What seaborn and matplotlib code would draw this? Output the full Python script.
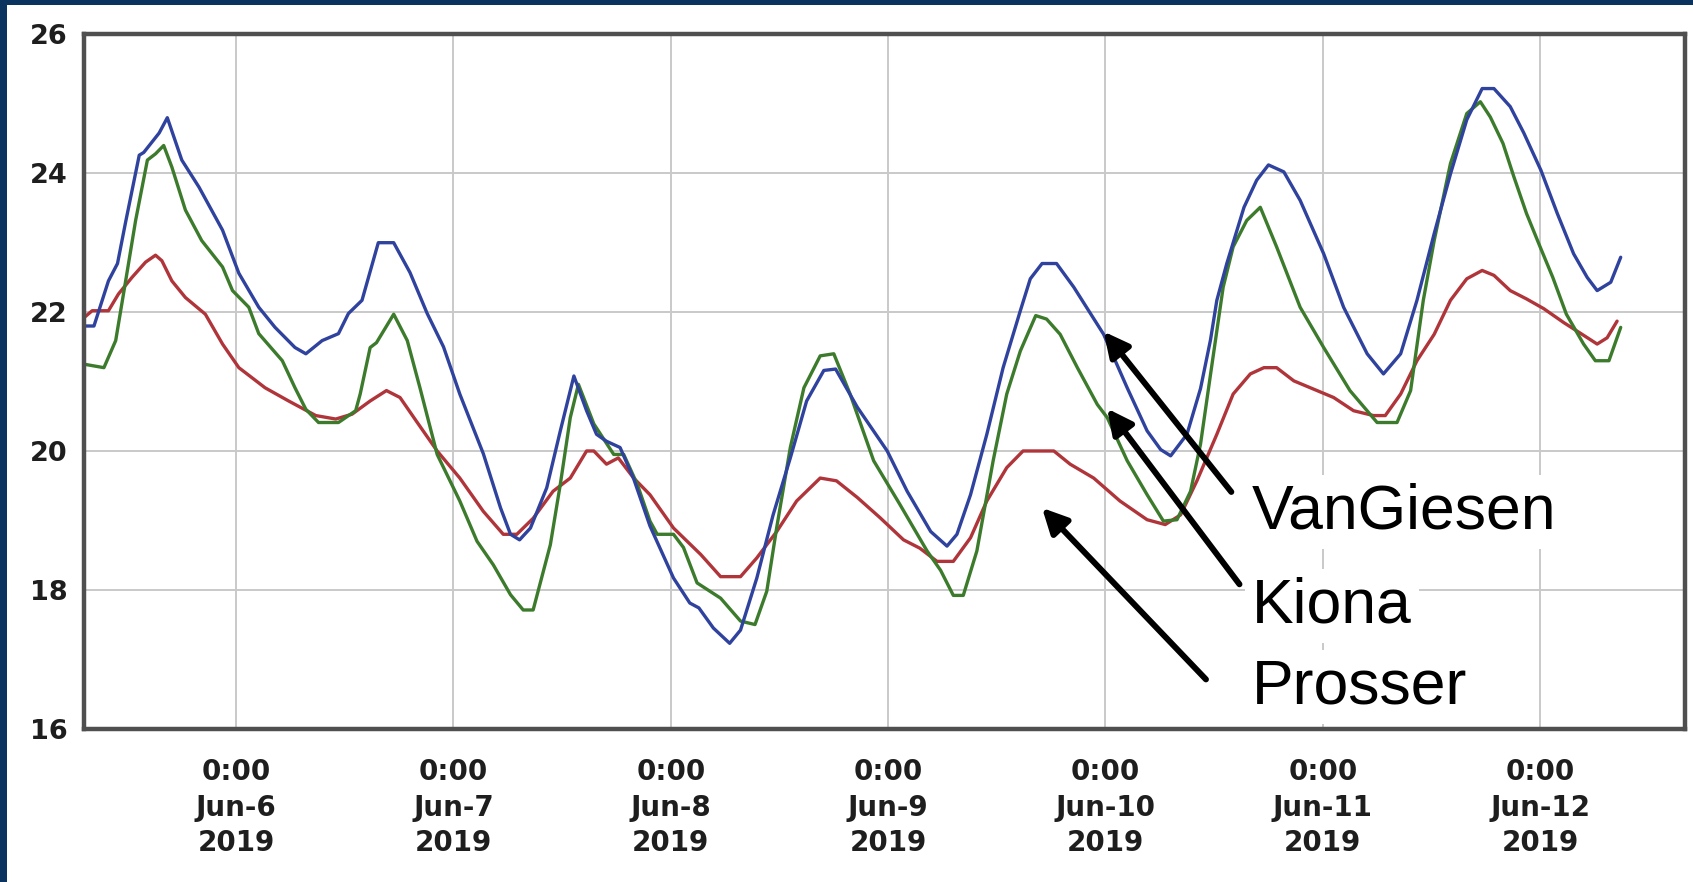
import numpy as np
import pandas as pd
import matplotlib
matplotlib.use("Agg")
import matplotlib.pyplot as plt
import matplotlib.dates as mdates
from matplotlib.patches import Rectangle
import seaborn as sns

# Hourly water temperature (deg C); times are hours relative to 2019-06-06 00:00
vangiesen_hours = [-16.8, -15.7, -14.1, -13.1, -12.2, -10.7, -10.2, -8.5, -7.6, -6.0, -4.1, -1.5,
                   0.3, 2.5, 4.3, 6.5, 7.7, 9.5, 11.3, 12.4, 13.9, 15.7, 17.4, 19.2, 21.1, 22.9,
                   24.7, 27.3, 29.2, 30.3, 31.3, 32.5, 34.3, 35.8, 37.3, 38.7, 39.8, 40.9, 42.4,
                   43.9, 45.7, 48.3, 50.1, 51.1, 52.7, 54.5, 55.7, 57.5, 59.3, 61.2, 63.0, 64.9,
                   66.2, 68.6, 71.9, 74.1, 76.7, 78.5, 79.6, 81.1, 82.9, 84.7, 86.6, 87.7, 89.0,
                   90.6, 92.5, 95.8, 98.4, 100.6, 102.1, 103.2, 105.0, 106.5, 107.6, 108.3, 109.4,
                   111.3, 112.7, 114.0, 115.7, 117.5, 120.1, 122.3, 124.9, 126.7, 128.6, 130.4,
                   132.3, 134.1, 135.9, 137.6, 138.9, 140.7, 142.2, 144.1, 145.9, 147.7, 149.2,
                   150.3, 151.8, 152.9]
vangiesen_temp = [21.8, 21.8, 22.45, 22.7, 23.3, 24.26, 24.3, 24.58, 24.8, 24.19, 23.8, 23.18,
                  22.56, 22.07, 21.78, 21.49, 21.4, 21.59, 21.69, 21.98, 22.17, 23.0, 23.0, 22.57,
                  21.98, 21.5, 20.82, 19.96, 19.18, 18.8, 18.72, 18.89, 19.47, 20.29, 21.08, 20.58,
                  20.24, 20.14, 20.05, 19.6, 18.92, 18.17, 17.81, 17.74, 17.45, 17.23, 17.42, 18.17,
                  19.08, 19.9, 20.72, 21.16, 21.18, 20.63, 20.0, 19.42, 18.84, 18.63, 18.8, 19.37,
                  20.24, 21.2, 22.02, 22.48, 22.7, 22.7, 22.36, 21.68, 20.91, 20.29, 20.02, 19.93,
                  20.24, 20.9, 21.6, 22.17, 22.7, 23.51, 23.9, 24.12, 24.02, 23.61, 22.84, 22.07,
                  21.4, 21.11, 21.4, 22.17, 23.13, 23.99, 24.77, 25.22, 25.22, 24.96, 24.58, 24.04,
                  23.42, 22.84, 22.5, 22.31, 22.43, 22.79]

kiona_hours = [-16.8, -14.6, -13.3, -12.2, -11.1, -9.8, -8.9, -8.0, -7.1, -5.6, -3.8, -1.5, -0.4,
               1.4, 2.5, 5.1, 6.5, 7.7, 9.1, 11.3, 13.2, 13.7, 14.8, 15.5, 17.4, 18.9, 20.3, 22.2,
               24.7, 26.6, 28.4, 30.3, 31.7, 32.8, 34.7, 35.8, 36.9, 37.8, 39.5, 41.7, 42.8, 44.3,
               45.7, 46.5, 48.3, 49.4, 50.9, 53.5, 55.7, 57.3, 58.6, 59.7, 61.2, 62.7, 64.5, 66.0,
               67.8, 70.4, 73.3, 76.3, 77.8, 79.2, 80.3, 81.8, 83.6, 85.1, 86.6, 88.3, 89.5, 91.0,
               92.9, 95.1, 96.2, 98.4, 100.6, 102.4, 103.9, 105.4, 106.5, 107.6, 109.0, 110.1,
               111.6, 113.1, 114.9, 117.5, 120.1, 123.0, 126.0, 128.2, 129.7, 131.1, 132.3, 134.1,
               135.9, 137.4, 138.5, 139.9, 141.1, 142.5, 144.0, 145.4, 146.9, 148.8, 150.1, 151.6,
               152.9]
kiona_temp = [21.25, 21.2, 21.59, 22.45, 23.32, 24.19, 24.28, 24.4, 24.09, 23.47, 23.03, 22.65,
              22.31, 22.07, 21.69, 21.3, 20.91, 20.6, 20.41, 20.41, 20.58, 20.82, 21.49, 21.56,
              21.97, 21.59, 20.91, 19.95, 19.28, 18.7, 18.36, 17.93, 17.71, 17.71, 18.65, 19.52,
              20.48, 20.96, 20.39, 19.95, 19.95, 19.52, 18.99, 18.8, 18.8, 18.61, 18.1, 17.88,
              17.55, 17.5, 17.98, 18.9, 20.05, 20.91, 21.37, 21.4, 20.82, 19.86, 19.23, 18.56,
              18.28, 17.92, 17.92, 18.56, 19.86, 20.82, 21.44, 21.95, 21.9, 21.68, 21.2, 20.67,
              20.48, 19.86, 19.37, 18.99, 19.01, 19.42, 20.1, 21.1, 22.36, 22.94, 23.32, 23.51,
              22.94, 22.07, 21.49, 20.87, 20.41, 20.41, 20.87, 22.17, 23.03, 24.14, 24.86, 25.03,
              24.81, 24.43, 23.95, 23.42, 22.94, 22.5, 21.97, 21.54, 21.3, 21.3, 21.78]

prosser_hours = [-16.8, -15.9, -14.1, -13.0, -11.5, -10.0, -8.9, -8.2, -7.1, -5.6, -3.4, -1.5, 0.3,
                 3.2, 5.8, 8.8, 11.0, 12.8, 14.8, 16.6, 18.1, 19.9, 22.2, 24.7, 27.3, 29.5, 31.0,
                 32.8, 35.0, 36.9, 38.7, 39.5, 40.9, 42.2, 43.9, 45.7, 48.3, 51.3, 53.5, 55.7, 57.5,
                 59.7, 61.9, 64.5, 66.3, 68.6, 71.1, 73.7, 75.5, 77.4, 79.2, 81.1, 82.9, 85.1, 86.9,
                 90.3, 92.1, 94.7, 97.6, 100.6, 102.6, 104.3, 106.1, 108.3, 110.1, 112.0, 113.5,
                 114.9, 116.8, 119.0, 121.2, 123.4, 125.6, 126.9, 128.6, 130.4, 132.3, 134.1, 135.9,
                 137.6, 138.9, 140.7, 142.5, 144.4, 146.6, 148.4, 150.3, 151.4, 152.5]
prosser_temp = [21.92, 22.02, 22.02, 22.26, 22.5, 22.72, 22.82, 22.74, 22.45, 22.21, 21.97, 21.54,
                21.2, 20.91, 20.72, 20.51, 20.46, 20.53, 20.72, 20.87, 20.77, 20.43, 20.0, 19.61,
                19.13, 18.8, 18.8, 19.03, 19.42, 19.61, 20.0, 20.0, 19.81, 19.9, 19.61, 19.37,
                18.89, 18.51, 18.19, 18.19, 18.46, 18.84, 19.28, 19.61, 19.57, 19.33, 19.04, 18.72,
                18.6, 18.41, 18.41, 18.75, 19.28, 19.76, 20.0, 20.0, 19.81, 19.61, 19.28, 19.01,
                18.94, 19.08, 19.57, 20.24, 20.82, 21.11, 21.2, 21.2, 21.01, 20.89, 20.77, 20.58,
                20.51, 20.51, 20.82, 21.3, 21.68, 22.17, 22.48, 22.6, 22.53, 22.31, 22.19, 22.05,
                21.85, 21.7, 21.54, 21.63, 21.87]

y_ticks = [16, 18, 20, 22, 24, 26]
x_tick_hours = [0, 24, 48, 72, 96, 120, 144]
x_tick_labels = ["0:00\nJun-6\n2019", "0:00\nJun-7\n2019", "0:00\nJun-8\n2019",
                 "0:00\nJun-9\n2019", "0:00\nJun-10\n2019", "0:00\nJun-11\n2019",
                 "0:00\nJun-12\n2019"]

BASE = pd.Timestamp("2019-06-06")


def to_time(hours):
    return BASE + pd.to_timedelta(np.asarray(hours, dtype=float), unit="h")


def hnum(h):
    return mdates.date2num((BASE + pd.Timedelta(hours=h)).to_pydatetime())


df = pd.concat([
    pd.DataFrame({"time": to_time(vangiesen_hours), "temp": vangiesen_temp, "site": "VanGiesen"}),
    pd.DataFrame({"time": to_time(kiona_hours), "temp": kiona_temp, "site": "Kiona"}),
    pd.DataFrame({"time": to_time(prosser_hours), "temp": prosser_temp, "site": "Prosser"}),
], ignore_index=True)

palette = {"VanGiesen": "#2f429e", "Kiona": "#3c7b2c", "Prosser": "#b0353a"}

sns.set_theme(style="white")
plt.rcParams["font.family"] = ["DejaVu Sans"]

W, H = 1693, 882
fig = plt.figure(figsize=(W / 100, H / 100), dpi=100)
fig.patch.set_facecolor("white")
ax = fig.add_axes([84 / W, 1 - 728.7 / H, (1685 - 84) / W, (728.7 - 34.4) / H])

sns.lineplot(data=df, x="time", y="temp", hue="site", hue_order=["Prosser", "Kiona", "VanGiesen"],
             palette=palette, estimator=None, sort=False, legend=False, lw=2.4, ax=ax)

ax.set_xlim(hnum(-16.8), hnum(160.0))
ax.set_ylim(16, 26)
ax.set_xlabel("")
ax.set_ylabel("")

ax.set_yticks(y_ticks)
ax.set_yticklabels([str(t) for t in y_ticks])
ax.set_xticks([hnum(h) for h in x_tick_hours])
ax.set_xticklabels(x_tick_labels)
ax.tick_params(axis="both", length=0, labelcolor="#1e1e1e")
ax.tick_params(axis="x", pad=21, labelsize=20)
ax.tick_params(axis="y", pad=12, labelsize=19.5)
for lbl in ax.get_xticklabels():
    lbl.set_fontweight("bold")
    lbl.set_linespacing(1.35)
for lbl in ax.get_yticklabels():
    lbl.set_fontweight("bold")

ax.grid(True, color="#c9c9c9", lw=1.4)
ax.set_axisbelow(True)
for sp in ax.spines.values():
    sp.set_visible(True)
    sp.set_color("#4f4f4f")
    sp.set_linewidth(3.2)

# Site labels with arrows pointing to each curve
labels = [
    ("VanGiesen", (109.9, 19.41), (95.8, 21.72), (112.2, 18.88)),
    ("Kiona", (110.8, 18.08), (96.2, 20.61), (112.2, 17.53)),
    ("Prosser", (107.1, 16.71), (89.0, 19.18), (112.2, 16.36)),
]
for name, tail, head, pos in labels:
    ax.text(hnum(pos[0]), pos[1], name, fontsize=45, family="Liberation Sans",
            ha="left", va="baseline", color="black", zorder=5,
            bbox=dict(boxstyle="square,pad=0.12", fc="white", ec="none"))
    ax.annotate("", xy=(hnum(head[0]), head[1]), xytext=(hnum(tail[0]), tail[1]),
                arrowprops=dict(arrowstyle="-|>,head_length=0.6,head_width=0.3",
                                color="black", lw=4.3, mutation_scale=25,
                                shrinkA=0, shrinkB=0),
                zorder=6)

# Navy frame strips along the top and left edges
navy = "#0b3360"
fig.add_artist(Rectangle((0, 1 - 5 / H), 1, 5 / H, transform=fig.transFigure,
                         color=navy, lw=0, zorder=10))
fig.add_artist(Rectangle((0, 0), 7 / W, 1, transform=fig.transFigure,
                         color=navy, lw=0, zorder=10))

fig.savefig("out.png", dpi=100, facecolor="white")
